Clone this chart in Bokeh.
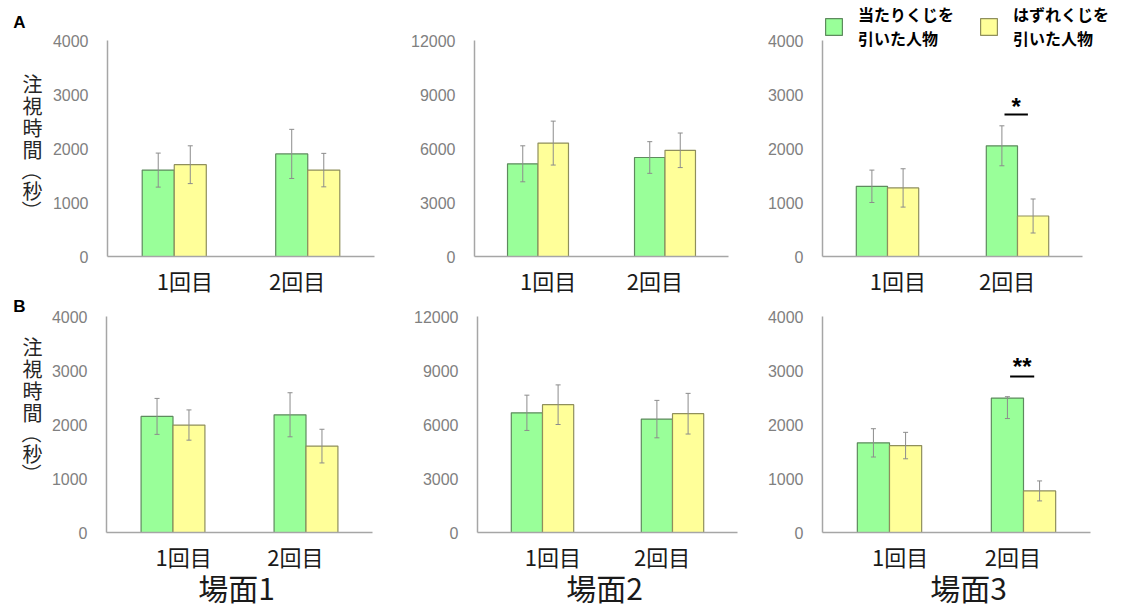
import numpy as np
from bokeh.plotting import figure
from bokeh.models import (Range1d, FixedTicker, Whisker, ColumnDataSource, Label,
                          Legend, LegendItem, TeeHead)
from bokeh.layouts import column, row
from bokeh.embed import file_html
from bokeh.resources import INLINE

# ---------------- data ----------------
rounds = ["1回目", "2回目"]
series = ["当たりくじを\n引いた人物", "はずれくじを\n引いた人物"]
scenes = ["場面1", "場面2", "場面3"]
panel_letters = ["A", "B"]
y_title = "注視時間（秒）"

ticks_small = [0, 1000, 2000, 3000, 4000]
ticks_big = [0, 3000, 6000, 9000, 12000]

# Row A
a1_hit = [1600, 1900];  a1_hit_err = [315, 455]
a1_miss = [1700, 1600]; a1_miss_err = [350, 310]
a2_hit = [5150, 5500];  a2_hit_err = [1000, 880]
a2_miss = [6300, 5900]; a2_miss_err = [1220, 960]
a3_hit = [1300, 2050];  a3_hit_err = [300, 370]
a3_miss = [1270, 750];  a3_miss_err = [355, 315]
a3_sig = ["", "*"];     a3_sig_y = [None, 2630]

# Row B
b1_hit = [2150, 2180];  b1_hit_err = [333, 408]
b1_miss = [1990, 1600]; b1_miss_err = [280, 312]
b2_hit = [6650, 6300];  b2_hit_err = [980, 1040]
b2_miss = [7100, 6600]; b2_miss_err = [1100, 1130]
b3_hit = [1660, 2490];  b3_hit_err = [262, 380]; b3_hit_err_up = [262, 25]
b3_miss = [1610, 770];  b3_miss_err = [245, 185]
b3_sig = ["", "**"];    b3_sig_y = [None, 2890]

# ---------------- style ----------------
GREEN, GREEN_EDGE = "#99FF99", "#5E8A5E"
YELLOW, YELLOW_EDGE = "#FFFF99", "#8F8F5C"
ERR = "#8C8C8C"
AXIS = "#A6A6A6"
TICK_TXT = "#808080"
TXT = "#1A1A1A"
CJK = "Noto Sans CJK JP"
LAT = "Liberation Sans"

idx = np.arange(len(rounds)) + 0.5
BW = 0.24
LABEL_SHIFT = np.array([0.08, -0.08])


def make_panel(col_x0, col_w, row_y0, row_h, fl, fr, ft, fb, ymax, yticks,
               hit, hit_lo, hit_hi, miss, miss_lo, miss_hi):
    # frame covers the whole figure; axes are fixed at data 0 inside it
    xs_per_px = 2.0 / (fr - fl)
    ys_per_px = ymax / (fb - ft)
    x_start = (col_x0 - fl) * xs_per_px
    x_end = (col_x0 + col_w - fl) * xs_per_px
    y_start = (fb - (row_y0 + row_h)) * ys_per_px
    y_end = (fb - row_y0) * ys_per_px

    p = figure(width=col_w, height=row_h, x_range=Range1d(x_start, x_end),
               y_range=Range1d(y_start, y_end),
               output_backend="svg", toolbar_location=None,
               min_border=0, min_border_left=0, min_border_right=0,
               min_border_top=0, min_border_bottom=0)
    p.outline_line_color = None
    p.grid.visible = False
    p.background_fill_color = "white"
    p.border_fill_color = "white"

    def to_data(px, py):
        return (px - fl) * xs_per_px, (fb - py) * ys_per_px

    p._to_data = to_data
    p._ys_per_px = ys_per_px

    xg = idx - BW / 2
    xy = idx + BW / 2
    rg = p.vbar(x=xg, top=hit, width=BW, bottom=0, fill_color=GREEN,
                line_color=GREEN_EDGE, line_width=1.2)
    ry = p.vbar(x=xy, top=miss, width=BW, bottom=0, fill_color=YELLOW,
                line_color=YELLOW_EDGE, line_width=1.2)

    for xs, m, lo, hi in ((xg, hit, hit_lo, hit_hi), (xy, miss, miss_lo, miss_hi)):
        src = ColumnDataSource(dict(
            x=xs,
            upper=np.array(m) + np.array(hi),
            lower=np.array(m) - np.array(lo)))
        w = Whisker(base="x", upper="upper", lower="lower", source=src,
                    line_color=ERR, line_width=1, level="overlay",
                    upper_head=TeeHead(size=5, line_color=ERR, line_width=1),
                    lower_head=TeeHead(size=5, line_color=ERR, line_width=1))
        p.add_layout(w)

    for ax in (p.xaxis, p.yaxis):
        ax.axis_line_color = AXIS
        ax.axis_line_width = 1.5
        ax.major_tick_line_color = None
        ax.minor_tick_line_color = None
        ax.major_tick_out = 0
        ax.major_tick_in = 0
        ax.minor_tick_out = 0
    p.yaxis.fixed_location = 0
    p.xaxis.fixed_location = 0
    p.yaxis.ticker = FixedTicker(ticks=yticks)
    p.yaxis.bounds = (0, ymax)
    p.yaxis.major_label_text_font = LAT
    p.yaxis.major_label_text_font_size = "16px"
    p.yaxis.major_label_text_color = TICK_TXT
    p.yaxis.major_label_standoff = 19

    tick_pos = [float(v) for v in (idx + LABEL_SHIFT)]
    p.xaxis.ticker = FixedTicker(ticks=tick_pos)
    p.xaxis.bounds = (0, 2)
    p.xaxis.major_label_overrides = {t: r for t, r in zip(tick_pos, rounds)}
    p.xaxis.major_label_text_font = CJK
    p.xaxis.major_label_text_font_size = "22px"
    p.xaxis.major_label_text_color = TXT
    p.xaxis.major_label_standoff = 7
    return p, rg, ry


def add_y_title(p, px, pys):
    for ch, py in zip(y_title, pys):
        xd, yd = p._to_data(px, py)
        ang = -np.pi / 2 if ch in "（）" else 0
        p.add_layout(Label(x=xd, y=yd, text=ch, text_font=CJK, text_font_size="20px",
                           text_color="#262626", text_align="center",
                           text_baseline="middle", angle=ang))


def add_letter(p, letter, px, py):
    xd, yd = p._to_data(px, py)
    p.add_layout(Label(x=xd, y=yd, text=letter, text_font=LAT, text_font_style="bold",
                       text_font_size="17px", text_color="#000000",
                       text_align="center", text_baseline="middle"))


def add_sig(p, sig, sig_y, lift_px):
    for xc, s, yv in zip(idx, sig, sig_y):
        if not s:
            continue
        p.segment(x0=[xc - 0.01 - 0.09], x1=[xc - 0.01 + 0.09], y0=[yv], y1=[yv],
                  line_color="#000000", line_width=2)
        p.add_layout(Label(x=xc - 0.01, y=yv + lift_px * p._ys_per_px, text=s,
                           text_font=LAT, text_font_style="bold", text_font_size="24px",
                           text_color="#000000", text_align="center",
                           text_baseline="alphabetic"))


def add_scene(p, text, px, py):
    xd, yd = p._to_data(px, py)
    p.add_layout(Label(x=xd, y=yd, text=text, text_font=CJK, text_font_size="30px",
                       text_color=TXT, text_align="center", text_baseline="middle"))


cols_x0 = [0, 385, 745]
cols_w = [385, 360, 382]
rowA = (0, 297, 40, 256)
rowB = (297, 312, 316, 532)
A_l = [107, 474, 822]; A_r = [374, 728, 1082]
B_l = [106, 477, 822]; B_r = [372, 737, 1090]

a_data = [
    (ticks_small[-1], ticks_small, a1_hit, a1_hit_err, a1_hit_err, a1_miss, a1_miss_err, a1_miss_err),
    (ticks_big[-1], ticks_big, a2_hit, a2_hit_err, a2_hit_err, a2_miss, a2_miss_err, a2_miss_err),
    (ticks_small[-1], ticks_small, a3_hit, a3_hit_err, a3_hit_err, a3_miss, a3_miss_err, a3_miss_err),
]
b_data = [
    (ticks_small[-1], ticks_small, b1_hit, b1_hit_err, b1_hit_err, b1_miss, b1_miss_err, b1_miss_err),
    (ticks_big[-1], ticks_big, b2_hit, b2_hit_err, b2_hit_err, b2_miss, b2_miss_err, b2_miss_err),
    (ticks_small[-1], ticks_small, b3_hit, b3_hit_err, b3_hit_err_up, b3_miss, b3_miss_err, b3_miss_err),
]

rowA_figs, rowB_figs = [], []
legend_renderers = None
for i in range(3):
    y0, h, ft, fb = rowA
    p, rg, ry = make_panel(cols_x0[i], cols_w[i], y0, h, A_l[i], A_r[i], ft, fb, *a_data[i])
    rowA_figs.append(p)
    if i == 2:
        legend_renderers = (rg, ry)
for i in range(3):
    y0, h, ft, fb = rowB
    p, rg, ry = make_panel(cols_x0[i], cols_w[i], y0, h, B_l[i], B_r[i], ft, fb, *b_data[i])
    rowB_figs.append(p)

# titles / letters
add_letter(rowA_figs[0], panel_letters[0], 19, 22)
add_letter(rowB_figs[0], panel_letters[1], 19, 306)
add_y_title(rowA_figs[0], 32, [83, 105, 127, 149, 170, 190, 210])
add_y_title(rowB_figs[0], 32, [346, 368, 390, 412, 433, 453, 473])

# significance
add_sig(rowA_figs[2], a3_sig, a3_sig_y, 8)
add_sig(rowB_figs[2], b3_sig, b3_sig_y, 10)

# scene labels
for p, s, px in zip(rowB_figs, scenes, [236, 604, 968]):
    add_scene(p, s, px, 586)

# legend (location in pixels from the figure's bottom-left)
pA3 = rowA_figs[2]
legend = Legend(items=[LegendItem(label=series[0], renderers=[legend_renderers[0]]),
                       LegendItem(label=series[1], renderers=[legend_renderers[1]])],
                location=(78, 297 - 50), orientation="horizontal",
                label_text_font=CJK, label_text_font_style="bold",
                label_text_font_size="16px", label_text_line_height=0.8,
                label_text_color="#000000",
                glyph_width=21, glyph_height=21, label_standoff=14, spacing=24,
                padding=0, margin=0, border_line_color=None,
                background_fill_alpha=0)
pA3.add_layout(legend)

layout = column(row(*rowA_figs), row(*rowB_figs))
open("out.html", "w").write(file_html(layout, INLINE))
